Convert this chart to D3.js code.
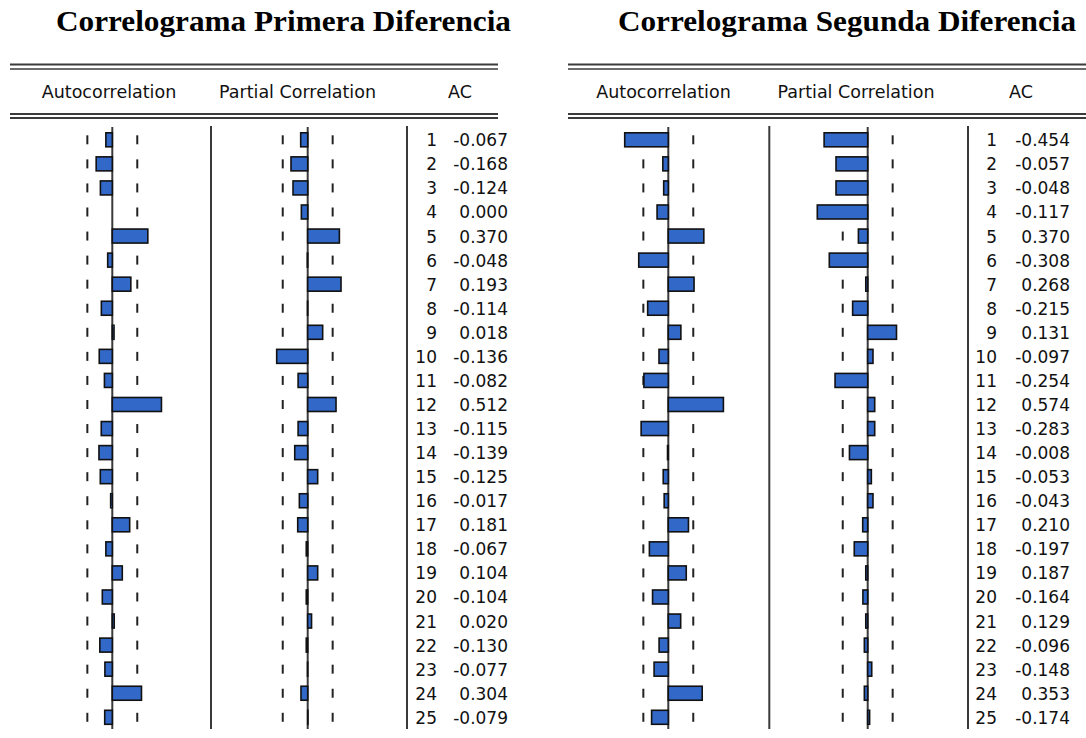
<!DOCTYPE html>
<html>
<head>
<meta charset="utf-8">
<script src="https://cdn.jsdelivr.net/npm/d3@7/dist/d3.min.js"></script>
<style>
  html, body { margin: 0; padding: 0; background: #fff; }
  svg { display: block; }
</style>
</head>
<body>
<svg id="chart" width="1086" height="738"></svg>
<script>
// ---- Data ----
const lags = d3.range(1, 26);

const titles = ["Correlograma Primera Diferencia", "Correlograma Segunda Diferencia"];
const headers = ["Autocorrelation", "Partial Correlation", "AC"];

// Primera diferencia
const acf1 = [-0.067, -0.168, -0.124, 0.000, 0.370, -0.048, 0.193, -0.114, 0.018, -0.136,
              -0.082, 0.512, -0.115, -0.139, -0.125, -0.017, 0.181, -0.067, 0.104, -0.104,
              0.020, -0.130, -0.077, 0.304, -0.079];
const pacf1 = [-0.073, -0.174, -0.153, -0.066, 0.330, -0.004, 0.347, -0.002, 0.156, -0.323,
               -0.100, 0.295, -0.100, -0.135, 0.104, -0.087, -0.104, -0.015, 0.104, -0.015,
               0.040, -0.015, -0.002, -0.070, 0.002];

// Segunda diferencia
const acf2 = [-0.454, -0.057, -0.048, -0.117, 0.370, -0.308, 0.268, -0.215, 0.131, -0.097,
              -0.254, 0.574, -0.283, -0.008, -0.053, -0.043, 0.210, -0.197, 0.187, -0.164,
              0.129, -0.096, -0.148, 0.353, -0.174];
const pacf2 = [-0.454, -0.330, -0.330, -0.525, -0.097, -0.400, -0.020, -0.157, 0.300, 0.055,
               -0.340, 0.073, 0.073, -0.190, 0.038, 0.055, -0.052, -0.140, -0.020, -0.050,
               -0.020, -0.035, 0.042, -0.035, 0.020];

const bound = 0.26; // confidence band (dashes)

// ---- Layout ----
const panels = [
  { title: titles[0], acf: acf1, pacf: pacf1, titleX0: 56, titleW: 455,
    lineX0: 10, lineX1: 498, acfAxis: 112.3, sep1: 211, pacfAxis: 307.7, sep2: 407,
    lagRight: 437, valRight: 508, acX: 460, acfHeadX: 109, pacfHeadX: 297.5 },
  { title: titles[1], acf: acf2, pacf: pacf2, titleX0: 618, titleW: 458,
    lineX0: 568, lineX1: 1086, acfAxis: 668.3, sep1: 769.3, pacfAxis: 867.7, sep2: 968,
    lagRight: 997, valRight: 1070, acX: 1021, acfHeadX: 663.5, pacfHeadX: 856 }
];

const pxPerUnit = 96;
const y = d3.scaleLinear().domain([1, 25]).range([139.8, 717.3]);
const barH = 14;
const fmt = d3.formatLocale({decimal: ".", thousands: ",", grouping: [3], currency: ["", ""], minus: "-"}).format(".3f");

const svg = d3.select("#chart");
const lineCol = "#3a3a3a";
const barFill = "#3268c8";

panels.forEach(p => {
  const g = svg.append("g");

  // title
  g.append("text")
    .attr("x", p.titleX0).attr("y", 31)
    .attr("text-anchor", "start")
    .attr("font-family", "'Liberation Serif', 'Times New Roman', serif")
    .attr("font-weight", "bold")
    .attr("font-size", 29.5)
    .attr("textLength", p.titleW)
    .attr("lengthAdjust", "spacingAndGlyphs")
    .attr("fill", "#000")
    .text(p.title);

  // double rules
  [[64.5, 2], [69, 1.5], [114, 1.8], [118, 1.8]].forEach(([yy, w]) => {
    g.append("line")
      .attr("x1", p.lineX0).attr("x2", p.lineX1)
      .attr("y1", yy).attr("y2", yy)
      .attr("stroke", lineCol).attr("stroke-width", w);
  });

  // headers
  const hdrFont = "'DejaVu Sans', sans-serif";
  [[headers[0], p.acfHeadX], [headers[1], p.pacfHeadX], [headers[2], p.acX]].forEach(([t, x]) => {
    g.append("text")
      .attr("x", x).attr("y", 98)
      .attr("text-anchor", "middle")
      .attr("font-family", hdrFont)
      .attr("font-size", 17.5)
      .attr("fill", "#111")
      .text(t);
  });

  // separators
  [p.sep1, p.sep2].forEach(x => {
    g.append("line")
      .attr("x1", x).attr("x2", x).attr("y1", 126).attr("y2", 729)
      .attr("stroke", lineCol).attr("stroke-width", 2);
  });

  // two correlogram columns
  [[p.acf, p.acfAxis], [p.pacf, p.pacfAxis]].forEach(([vals, axis]) => {
    const x = d3.scaleLinear().domain([-1, 1]).range([axis - pxPerUnit, axis + pxPerUnit]);
    const col = g.append("g");

    // confidence dashes
    lags.forEach(l => {
      [-bound, bound].forEach(b => {
        col.append("line")
          .attr("x1", x(b)).attr("x2", x(b))
          .attr("y1", y(l) - 4.5).attr("y2", y(l) + 4.5)
          .attr("stroke", "#222").attr("stroke-width", 2);
      });
    });

    // zero axis
    col.append("line")
      .attr("x1", x(0)).attr("x2", x(0)).attr("y1", 127).attr("y2", 729)
      .attr("stroke", lineCol).attr("stroke-width", 2);

    // bars
    col.selectAll("rect")
      .data(vals.map((v, i) => ({ v, l: lags[i] })))
      .join("rect")
      .filter(d => d.v !== 0)
      .attr("x", d => Math.min(x(0), x(d.v)))
      .attr("width", d => Math.abs(x(d.v) - x(0)))
      .attr("y", d => y(d.l) - barH / 2)
      .attr("height", barH)
      .attr("fill", barFill)
      .attr("stroke", "#111")
      .attr("stroke-width", 1.6);
  });

  // lag numbers and AC values
  const txtFont = "'DejaVu Sans', sans-serif";
  lags.forEach((l, i) => {
    g.append("text")
      .attr("x", p.lagRight).attr("y", y(l) + 6.5)
      .attr("text-anchor", "end")
      .attr("font-family", txtFont).attr("font-size", 17).attr("fill", "#111")
      .text(l);
    g.append("text")
      .attr("x", p.valRight).attr("y", y(l) + 6.5)
      .attr("text-anchor", "end")
      .attr("font-family", txtFont).attr("font-size", 17).attr("fill", "#111")
      .text(fmt(p.acf[i]));
  });
});
</script>
</body>
</html>
